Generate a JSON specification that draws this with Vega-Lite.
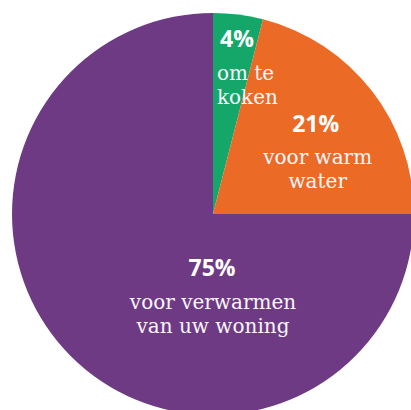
{
  "$schema": "https://vega.github.io/schema/vega-lite/v6.json",
  "width": 402,
  "height": 402,
  "autosize": {"type": "none"},
  "padding": {"left": 12, "top": 13, "right": 0, "bottom": 0},
  "background": "white",
  "config": {"view": {"stroke": null}},
  "data": {
    "values": [
      {"categorie": "koken", "aandeel": 4, "pct": "4%", "omschrijving": "om te\nkoken"},
      {"categorie": "warm water", "aandeel": 21, "pct": "21%", "omschrijving": "voor warm\nwater"},
      {"categorie": "verwarmen", "aandeel": 75, "pct": "75%", "omschrijving": "voor verwarmen\nvan uw woning"}
    ]
  },
  "encoding": {
    "theta": {"field": "aandeel", "type": "quantitative", "stack": true},
    "order": {"field": "aandeel", "type": "quantitative", "sort": "ascending"}
  },
  "layer": [
    {
      "mark": {"type": "arc"},
      "encoding": {
        "color": {
          "field": "categorie",
          "type": "nominal",
          "scale": {"domain": ["koken", "warm water", "verwarmen"], "range": ["#15a76a", "#eb6a25", "#6f3a84"]},
          "legend": null
        }
      }
    },
    {
      "mark": {"type": "text", "radius": 168, "dx": 3, "align": "center", "baseline": "alphabetic", "font": "Open Sans", "fontWeight": "bold", "fontSize": 23, "color": "white"},
      "encoding": {"text": {"condition": {"test": "datum.categorie === 'koken'", "field": "pct"}, "value": ""}}
    },
    {
      "mark": {"type": "text", "radius": 135, "dx": -13, "align": "left", "baseline": "alphabetic", "font": "DejaVu Serif", "fontSize": 20, "lineBreak": "\n", "lineHeight": 24, "color": "#f8f6fa"},
      "encoding": {"text": {"condition": {"test": "datum.categorie === 'koken'", "field": "omschrijving"}, "value": ""}}
    },
    {
      "mark": {"type": "text", "radius": 130, "dy": -2, "align": "center", "baseline": "alphabetic", "font": "Open Sans", "fontWeight": "bold", "fontSize": 23, "color": "white"},
      "encoding": {"text": {"condition": {"test": "datum.categorie === 'warm water'", "field": "pct"}, "value": ""}}
    },
    {
      "mark": {"type": "text", "radius": 130, "dx": 2, "dy": 30, "align": "center", "baseline": "alphabetic", "font": "DejaVu Serif", "fontSize": 20, "lineBreak": "\n", "lineHeight": 24, "color": "#f8f6fa"},
      "encoding": {"text": {"condition": {"test": "datum.categorie === 'warm water'", "field": "omschrijving"}, "value": ""}}
    },
    {
      "mark": {"type": "text", "radius": 0, "dx": -1, "dy": 62, "align": "center", "baseline": "alphabetic", "font": "Open Sans", "fontWeight": "bold", "fontSize": 23, "color": "white"},
      "encoding": {"text": {"condition": {"test": "datum.categorie === 'verwarmen'", "field": "pct"}, "value": ""}}
    },
    {
      "mark": {"type": "text", "radius": 0, "dx": 0, "dy": 95, "align": "center", "baseline": "alphabetic", "font": "DejaVu Serif", "fontSize": 20, "lineBreak": "\n", "lineHeight": 24, "color": "#f8f6fa"},
      "encoding": {"text": {"condition": {"test": "datum.categorie === 'verwarmen'", "field": "omschrijving"}, "value": ""}}
    }
  ]
}
